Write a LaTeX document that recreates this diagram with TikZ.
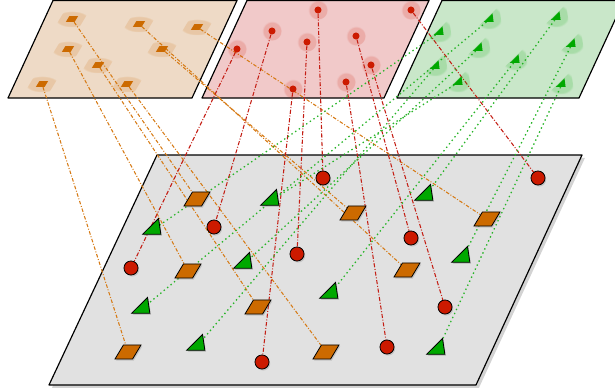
\documentclass[tikz,border=0pt]{standalone}
\usepackage{tikz}
\usetikzlibrary{shapes.geometric,shadows}

\definecolor{planeO}{RGB}{238,218,198}
\definecolor{planeR}{RGB}{241,201,201}
\definecolor{planeG}{RGB}{201,231,201}
\definecolor{planeB}{RGB}{225,225,225}
\definecolor{shapeO}{RGB}{204,106,0}
\definecolor{shapeR}{RGB}{204,26,0}
\definecolor{shapeG}{RGB}{0,168,0}
\definecolor{lineO}{RGB}{214,122,20}
\definecolor{lineR}{RGB}{196,30,20}
\definecolor{lineG}{RGB}{40,180,40}

\pgfdeclarelayer{background}
\pgfdeclarelayer{foreground}
\pgfsetlayers{background,main,foreground}

\tikzset{
	plate/.style={draw=black, line width=1pt, line join=round},
	halo/.style={circular drop shadow={shadow xshift=0pt, shadow yshift=0pt, shadow scale=2.8, fill=#1, opacity=0.16}},
	lowshadow/.style={drop shadow={shadow xshift=1pt, shadow yshift=-1.3pt, opacity=0.3}},
	parabox/.style={rectangle, draw=black, line width=0.7pt, fill=shapeO, minimum width=15pt, minimum height=12pt, inner sep=0pt, xslant=0.6, lowshadow},
	reddot/.style={circle, draw=black, line width=0.7pt, fill=shapeR, minimum size=12pt, inner sep=0pt, lowshadow},
	greentri/.style={regular polygon, regular polygon sides=3, draw=black, line width=0.7pt, fill=shapeG, minimum size=18pt, inner sep=0pt, xslant=0.43, lowshadow},
	smallpara/.style={rectangle, fill=shapeO, minimum width=7.5pt, minimum height=5pt, inner sep=0pt, xslant=0.6, halo=shapeO},
	smalldot/.style={circle, fill=shapeR, minimum size=6pt, inner sep=0pt, halo=shapeR},
	smalltri/.style={regular polygon, regular polygon sides=3, fill=shapeG, minimum size=9.5pt, inner sep=0pt, xslant=0.45, halo=shapeG},
	oline/.style={lineO, line width=0.9pt, dash pattern=on 3pt off 1.5pt on 0.8pt off 1.5pt},
	rline/.style={lineR, line width=0.9pt, dash pattern=on 3.5pt off 1.5pt on 0.8pt off 1.5pt},
	gline/.style={lineG, line width=1.1pt, dash pattern=on 1.2pt off 2.6pt}
}

\begin{document}
\begin{tikzpicture}[x=0.03cm, y=-0.03cm]
	\useasboundingbox (0,0) rectangle (615,391);

	\begin{pgfonlayer}{background}
		\filldraw[plate, fill=planeO] (53,0.5) -- (237,0.5) -- (192,98) -- (8,98) -- cycle;
		\filldraw[plate, fill=planeR] (247,0.5) -- (429,0.5) -- (384,98) -- (202,98) -- cycle;
		\filldraw[plate, fill=planeG] (442,0.5) -- (624,0.5) -- (579,98) -- (397,98) -- cycle;
		\filldraw[plate, fill=planeB, drop shadow={shadow xshift=2.5pt, shadow yshift=-2.5pt, opacity=0.35}] (157,155) -- (582,155) -- (476,385) -- (49,385) -- cycle;
	\end{pgfonlayer}

	\begin{pgfonlayer}{foreground}
		\node[smallpara] (to1) at (72,19) {};
		\node[smallpara] (to2) at (139,24) {};
		\node[smallpara] (to3) at (197,27) {};
		\node[smallpara] (to4) at (68,49) {};
		\node[smallpara] (to5) at (162,49) {};
		\node[smallpara] (to6) at (98,65) {};
		\node[smallpara] (to7) at (42,84) {};
		\node[smallpara] (to8) at (127,84) {};

		\node[smalldot] (tr1) at (318,10) {};
		\node[smalldot] (tr2) at (411,10) {};
		\node[smalldot] (tr3) at (272,31) {};
		\node[smalldot] (tr4) at (356,36) {};
		\node[smalldot] (tr5) at (307,42) {};
		\node[smalldot] (tr6) at (237,49) {};
		\node[smalldot] (tr7) at (371,65) {};
		\node[smalldot] (tr8) at (346,82) {};
		\node[smalldot] (tr9) at (293,89) {};

		\node[smalltri] (tg1) at (557,17) {};
		\node[smalltri] (tg2) at (490,19) {};
		\node[smalltri] (tg3) at (440,32) {};
		\node[smalltri] (tg4) at (572,44) {};
		\node[smalltri] (tg5) at (479,48) {};
		\node[smalltri] (tg6) at (516,60) {};
		\node[smalltri] (tg7) at (436,66) {};
		\node[smalltri] (tg8) at (459,82) {};
		\node[smalltri] (tg9) at (562,84) {};

		\node[parabox] (bo1) at (197,199) {};
		\node[parabox] (bo2) at (407,270) {};
		\node[parabox] (bo3) at (487,219) {};
		\node[parabox] (bo4) at (188,271) {};
		\node[parabox] (bo5) at (353,213) {};
		\node[parabox] (bo6) at (258,307) {};
		\node[parabox] (bo7) at (128,352) {};
		\node[parabox] (bo8) at (326,352) {};

		\node[reddot] (br1) at (323,178) {};
		\node[reddot] (br2) at (538,178) {};
		\node[reddot] (br3) at (214,227) {};
		\node[reddot] (br4) at (411,238) {};
		\node[reddot] (br5) at (297,254) {};
		\node[reddot] (br6) at (131,268) {};
		\node[reddot] (br7) at (445,307) {};
		\node[reddot] (br8) at (387,347) {};
		\node[reddot] (br9) at (262,362) {};

		\node[greentri] (bg1) at (426,195) {};
		\node[greentri] (bg2) at (143,308) {};
		\node[greentri] (bg3) at (154,229) {};
		\node[greentri] (bg4) at (463,257) {};
		\node[greentri] (bg5) at (245,263) {};
		\node[greentri] (bg6) at (331,293) {};
		\node[greentri] (bg7) at (198,345) {};
		\node[greentri] (bg8) at (272,200) {};
		\node[greentri] (bg9) at (438,349) {};
	\end{pgfonlayer}

	\foreach \i in {1,...,8}
		\draw[oline] (to\i) -- (bo\i);
	\foreach \i in {1,...,9}
		\draw[rline] (tr\i) -- (br\i);
	\foreach \i in {1,...,9}
		\draw[gline] (tg\i) -- (bg\i);
\end{tikzpicture}
\end{document}
